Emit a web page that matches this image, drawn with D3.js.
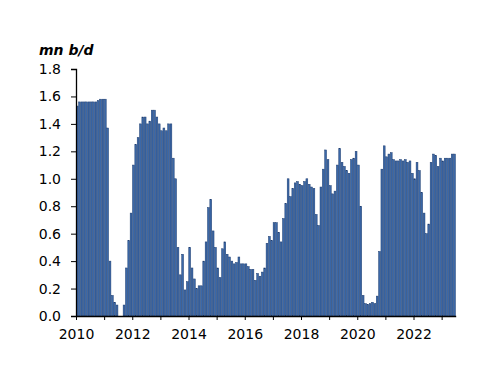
<!DOCTYPE html>
<html>
<head>
<meta charset="utf-8">
<script src="https://cdn.jsdelivr.net/npm/d3@7"></script>
<style>
  body { margin: 0; background: #fff; }
  text { font-family: "DejaVu Sans", Verdana, sans-serif; }
</style>
</head>
<body>
<svg id="chart" width="500" height="386"></svg>
<script>
// Monthly values, mn b/d, Jan 2010 - Jun 2023
const years = [2010, 2011, 2012, 2013, 2014, 2015, 2016, 2017, 2018, 2019, 2020, 2021, 2022, 2023];
const values = [
  // 2010
  1.53, 1.56, 1.56, 1.56, 1.56, 1.56, 1.56, 1.56, 1.56, 1.57, 1.58, 1.58,
  // 2011
  1.58, 1.37, 0.40, 0.15, 0.10, 0.08, 0.00, 0.00, 0.08, 0.35, 0.55, 0.75,
  // 2012
  1.10, 1.25, 1.30, 1.40, 1.45, 1.45, 1.40, 1.42, 1.50, 1.50, 1.45, 1.40,
  // 2013
  1.35, 1.37, 1.35, 1.40, 1.40, 1.15, 1.00, 0.50, 0.30, 0.45, 0.19, 0.25,
  // 2014
  0.50, 0.35, 0.27, 0.20, 0.22, 0.22, 0.40, 0.54, 0.79, 0.85, 0.62, 0.50,
  // 2015
  0.35, 0.28, 0.49, 0.54, 0.45, 0.43, 0.40, 0.38, 0.39, 0.43, 0.38, 0.38,
  // 2016
  0.38, 0.36, 0.34, 0.34, 0.26, 0.31, 0.29, 0.32, 0.35, 0.53, 0.58, 0.55,
  // 2017
  0.68, 0.68, 0.61, 0.54, 0.71, 0.82, 1.00, 0.87, 0.93, 0.97, 0.98, 0.96,
  // 2018
  0.95, 0.98, 1.00, 0.96, 0.94, 0.93, 0.74, 0.66, 0.94, 1.07, 1.21, 1.14,
  // 2019
  0.95, 0.89, 0.91, 1.10, 1.22, 1.12, 1.09, 1.06, 1.04, 1.14, 1.15, 1.20,
  // 2020
  1.10, 0.80, 0.15, 0.09, 0.085, 0.09, 0.10, 0.09, 0.145, 0.47, 1.07, 1.24,
  // 2021
  1.16, 1.18, 1.19, 1.14, 1.13, 1.13, 1.14, 1.13, 1.14, 1.12, 1.13, 1.04,
  // 2022
  1.00, 1.12, 1.06, 0.90, 0.75, 0.60, 0.67, 1.12, 1.18, 1.17, 1.09, 1.15,
  // 2023
  1.13, 1.15, 1.15, 1.15, 1.18, 1.18
];
const yTicks = [0, 0.2, 0.4, 0.6, 0.8, 1.0, 1.2, 1.4, 1.6, 1.8];
const tickYears = [2010, 2012, 2014, 2016, 2018, 2020, 2022];
const unitLabel = "mn b/d";

const data = values.map((v, i) => ({ i: i, year: years[0] + Math.floor(i / 12), month: i % 12, value: v }));

const margin = { left: 76, right: 44, top: 69, bottom: 70 };
const width = 500, height = 386;
const svg = d3.select('#chart');

// one band per month; year ticks fall on band edges
const x = d3.scaleBand()
    .domain(data.map(d => d.i))
    .range([margin.left, margin.left + 379.7])
    .paddingInner(0.22)
    .paddingOuter(0.11);

const step = x.step();
const xEdge = d3.scaleLinear()
    .domain([years[0], years[0] + values.length / 12])
    .range([margin.left, margin.left + step * values.length]);

const y = d3.scaleLinear()
    .domain([0, 1.8])
    .range([height - margin.bottom, margin.top]);

// bars
svg.append('g')
  .selectAll('rect')
  .data(data)
  .join('rect')
    .attr('x', d => x(d.i))
    .attr('y', d => y(d.value))
    .attr('width', x.bandwidth())
    .attr('height', d => y(0) - y(d.value))
    .attr('fill', '#3b68a8')
    .attr('stroke', '#1d3c6f')
    .attr('stroke-width', 0.5);

// y axis
const yAxis = d3.axisLeft(y)
    .tickValues(yTicks)
    .tickFormat(d3.format('.1f'))
    .tickSize(5)
    .tickPadding(10);

svg.append('g')
    .attr('transform', `translate(${margin.left},0)`)
    .call(yAxis)
    .call(g => g.select('.domain').attr('stroke-width', 1.3))
    .call(g => g.selectAll('.tick text')
        .attr('font-size', 14)
        .attr('fill', '#000')
        .style('font-family', '"DejaVu Sans", Verdana, sans-serif'));

// x axis: a tick at every year edge, labels every other year
const xAxis = d3.axisBottom(xEdge)
    .tickValues(years)
    .tickFormat(d => tickYears.includes(d) ? d : '')
    .tickSize(4)
    .tickPadding(9)
    .tickSizeOuter(0);

svg.append('g')
    .attr('transform', `translate(0,${y(0)})`)
    .call(xAxis)
    .call(g => g.select('.domain').attr('stroke-width', 1.3))
    .call(g => g.selectAll('.tick text')
        .attr('font-size', 14)
        .attr('fill', '#000')
        .style('font-family', '"DejaVu Sans", Verdana, sans-serif'));

// unit label
svg.append('text')
    .attr('x', 39)
    .attr('y', 55)
    .attr('font-size', 14)
    .attr('font-weight', 'bold')
    .attr('font-style', 'italic')
    .text(unitLabel);
</script>
</body>
</html>
